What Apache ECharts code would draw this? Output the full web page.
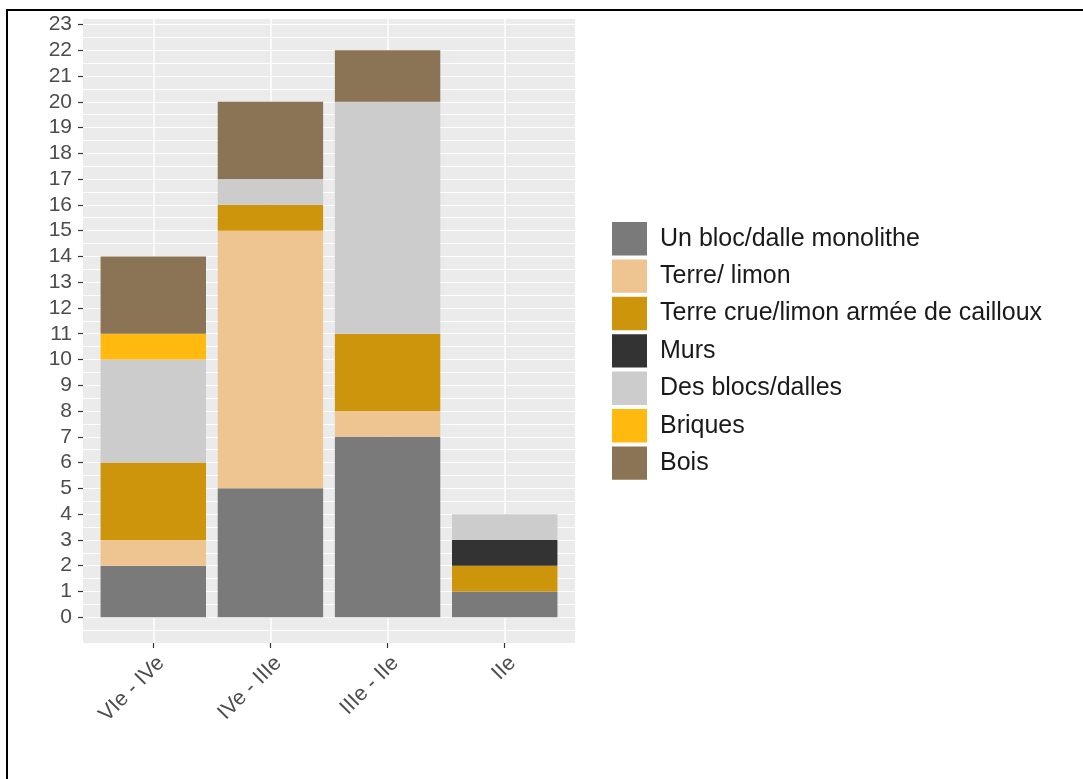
<!DOCTYPE html>
<html>
<head>
<meta charset="utf-8">
<script src="https://cdn.jsdelivr.net/npm/echarts@6/dist/echarts.min.js"></script>
<style>
  html, body { margin: 0; padding: 0; background: #ffffff; }
  #wrap { position: relative; width: 1083px; height: 779px; overflow: hidden; }
  #chart { position: absolute; left: 0; top: 0; width: 1083px; height: 779px; }
  #frame { position: absolute; left: 6px; top: 9px; width: 1200px; height: 900px;
           border-top: 2px solid #000; border-left: 2px solid #000; pointer-events: none; }
</style>
</head>
<body>
<div id="wrap">
  <div id="chart"></div>
  <div id="frame"></div>
</div>
<script>
// ---- data ----
const categories = ['VIe - IVe', 'IVe - IIIe', 'IIIe - IIe', 'IIe'];
const seriesNames = ['Un bloc/dalle monolithe', 'Terre/ limon', 'Terre crue/limon armée de cailloux', 'Murs', 'Des blocs/dalles', 'Briques', 'Bois'];
const unBloc     = [2, 5, 7, 1];
const terreLimon = [1, 10, 1, 0];
const terreCrue  = [3, 1, 3, 1];
const murs       = [0, 0, 0, 1];
const desBlocs   = [4, 1, 9, 1];
const briques    = [1, 0, 0, 0];
const bois       = [3, 3, 2, 0];
const yTickLabels = [0, 1, 2, 3, 4, 5, 6, 7, 8, 9, 10, 11, 12, 13, 14, 15, 16, 17, 18, 19, 20, 21, 22, 23];
const seriesColors = ['#7a7a7a', '#eec591', '#cd950c', '#333333', '#cccccc', '#ffb90f', '#8b7355'];

const seriesValues = [unBloc, terreLimon, terreCrue, murs, desBlocs, briques, bois];
const catPositions = categories.map((c, i) => i + 1);

const FONT = '"Liberation Sans", Arial, sans-serif';
const W = 1083;
const PANEL = { left: 83, right: 508, top: 18, bottom: 136 };
// ggplot discrete scale: 0.6 unit expansion each side of the 4 categories
const X_MIN = 0.4, X_MAX = categories.length + 0.6;
const unitPx = (W - PANEL.left - PANEL.right) / (X_MAX - X_MIN);
const innerPad = (1 - X_MIN - 0.5) * unitPx; // distance from panel edge to first band edge
const Y_MIN = -1, Y_MAX = 23.25;

const chart = echarts.init(document.getElementById('chart'), null, { renderer: 'canvas' });

const option = {
  animation: false,
  backgroundColor: '#ffffff',
  grid: [
    {
      left: PANEL.left, right: PANEL.right, top: PANEL.top, bottom: PANEL.bottom,
      show: true, backgroundColor: '#ebebeb', borderWidth: 0
    },
    {
      left: PANEL.left + innerPad, right: PANEL.right + innerPad, top: PANEL.top, bottom: PANEL.bottom,
      show: false
    }
  ],
  legend: {
    orient: 'vertical',
    left: 612, top: 222,
    padding: 0,
    itemWidth: 35, itemHeight: 33.4, itemGap: 4,
    icon: 'rect',
    selectedMode: false,
    textStyle: { fontSize: 25, fontFamily: FONT, color: '#1a1a1a', padding: [0, 0, 0, 8] },
    data: seriesNames
  },
  xAxis: [
    {
      type: 'value', gridIndex: 0,
      min: X_MIN, max: X_MAX,
      axisLine: { show: false, onZero: false },
      axisTick: { show: true, length: 5, lineStyle: { color: '#333333', width: 1.2 }, customValues: catPositions },
      axisLabel: {
        customValues: catPositions,
        rotate: 45, margin: 9,
        align: 'right', verticalAlign: 'top',
        fontSize: 21.5, fontFamily: FONT, color: '#4d4d4d',
        formatter: v => categories[Math.round(v) - 1] || ''
      },
      splitLine: { show: true, lineStyle: { color: '#ffffff', width: 1.5 } }
    },
    {
      type: 'category', gridIndex: 1,
      data: categories,
      show: false,
      axisLine: { onZero: false }
    }
  ],
  yAxis: [
    {
      type: 'value', gridIndex: 0, min: Y_MIN, max: Y_MAX, interval: 0.5,
      axisLine: { show: false }, axisTick: { show: false }, axisLabel: { show: false },
      splitLine: { show: true, lineStyle: { color: '#ffffff', width: 1.2 } }
    },
    {
      type: 'value', gridIndex: 0, min: Y_MIN, max: Y_MAX, interval: 1, position: 'left',
      axisLine: { show: false, onZero: false },
      axisTick: { show: true, length: 5, lineStyle: { color: '#333333', width: 1.2 }, customValues: yTickLabels },
      axisLabel: {
        customValues: yTickLabels,
        margin: 11, fontSize: 21, fontFamily: FONT, color: '#4d4d4d',
        formatter: v => (v >= 0 && Number.isInteger(v)) ? String(v) : ''
      },
      splitLine: { show: false }
    },
    {
      type: 'value', gridIndex: 1, min: Y_MIN, max: Y_MAX,
      show: false, splitLine: { show: false }
    }
  ],
  series: seriesNames.map((name, k) => ({
    name: name,
    type: 'bar',
    stack: 'total',
    xAxisIndex: 1,
    yAxisIndex: 2,
    barWidth: '90%',
    itemStyle: { color: seriesColors[k] },
    data: seriesValues[k]
  }))
};

chart.setOption(option);
</script>
</body>
</html>
